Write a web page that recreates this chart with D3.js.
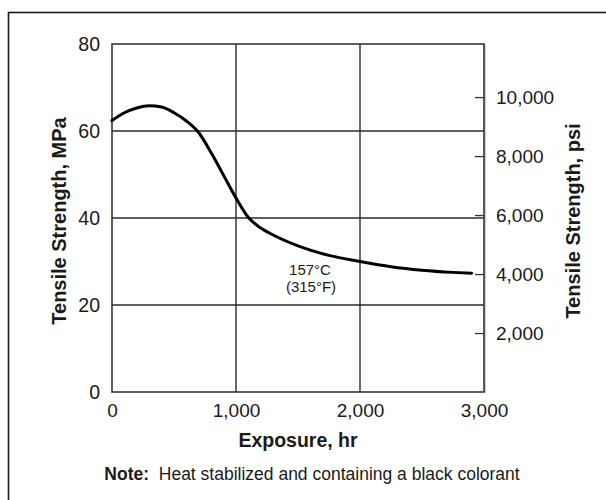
<!DOCTYPE html>
<html>
<head>
<meta charset="utf-8">
<script src="https://cdn.jsdelivr.net/npm/d3@7"></script>
<style>
  html, body { margin: 0; padding: 0; background: #fff; }
  svg { display: block; font-family: "Liberation Sans", Arial, Helvetica, sans-serif; }
</style>
</head>
<body>
<svg id="chart" width="606" height="500"></svg>
<script>
// Exposure time (hr) and tensile strength (MPa) at 157 °C
const exposureHr = [0, 100, 200, 300, 400, 500, 600, 700, 800, 900, 1000, 1100, 1200, 1300, 1500, 1750, 2000, 2250, 2500, 2750, 2900];
const strengthMPa = [62.4, 64.2, 65.3, 65.8, 65.5, 64.2, 62.3, 59.6, 55.0, 49.8, 44.6, 40.1, 37.7, 36.1, 33.6, 31.4, 30.0, 28.8, 28.0, 27.5, 27.3];

// Axis ticks
const xTicks = [0, 1000, 2000, 3000];
const mpaTicks = [0, 20, 40, 60, 80];
const psiTicks = [2000, 4000, 6000, 8000, 10000];
const psiTop = 11800;   // psi value at the top of the frame

const svg = d3.select("#chart");
const m = { left: 112, right: 484, top: 44, bottom: 392 };

const x = d3.scaleLinear().domain([0, 3000]).range([m.left, m.right]);
const y = d3.scaleLinear().domain([0, 80]).range([m.bottom, m.top]);
const yPsi = d3.scaleLinear().domain([0, psiTop]).range([m.bottom, m.top]);

const fmt = d3.format(",");
const ink = "#1a1a1a";

// Outer frame
svg.append("rect")
  .attr("x", 8.5).attr("y", 12.5)
  .attr("width", 640).attr("height", 520)
  .attr("fill", "none").attr("stroke", ink).attr("stroke-width", 1.6);

// Grid lines
const grid = svg.append("g").attr("stroke", "#2a2a2a").attr("stroke-width", 1.4);
grid.selectAll("line.v").data(xTicks.slice(1, -1)).join("line")
  .attr("x1", d => x(d)).attr("x2", d => x(d))
  .attr("y1", m.top).attr("y2", m.bottom);
grid.selectAll("line.h").data(mpaTicks.slice(1, -1)).join("line")
  .attr("y1", d => y(d)).attr("y2", d => y(d))
  .attr("x1", m.left).attr("x2", m.right);

// Plot frame
svg.append("rect")
  .attr("x", m.left).attr("y", m.top)
  .attr("width", m.right - m.left).attr("height", m.bottom - m.top)
  .attr("fill", "none").attr("stroke", "#2a2a2a").attr("stroke-width", 1.5);

// Left axis (MPa)
const yAxis = svg.append("g")
  .attr("transform", `translate(${m.left},0)`)
  .call(d3.axisLeft(y).tickValues(mpaTicks).tickSize(0).tickPadding(12));
yAxis.select(".domain").remove();
yAxis.selectAll("text").attr("font-size", 19.5).attr("fill", ink)
  .attr("font-family", "Liberation Sans, Arial, sans-serif");

// Bottom axis (hours)
const xAxis = svg.append("g")
  .attr("transform", `translate(0,${m.bottom})`)
  .call(d3.axisBottom(x).tickValues(xTicks).tickFormat(fmt).tickSize(0).tickPadding(12));
xAxis.select(".domain").remove();
xAxis.selectAll("text").attr("font-size", 19).attr("fill", ink)
  .attr("font-family", "Liberation Sans, Arial, sans-serif");

// Right axis (psi), ticks pointing inward
const rAxis = svg.append("g")
  .attr("transform", `translate(${m.right},0)`)
  .call(d3.axisRight(yPsi).tickValues(psiTicks).tickFormat(fmt).tickSizeInner(-9).tickSizeOuter(0).tickPadding(12));
rAxis.select(".domain").attr("stroke", "#555").attr("stroke-width", 1.6);
rAxis.selectAll(".tick line").attr("stroke", "#333").attr("stroke-width", 1.3);
rAxis.selectAll("text").attr("font-size", 19).attr("fill", ink)
  .attr("font-family", "Liberation Sans, Arial, sans-serif");

// Strength curve
const pts = exposureHr.map((h, i) => [h, strengthMPa[i]]);
svg.append("path")
  .datum(pts)
  .attr("fill", "none").attr("stroke", "#000").attr("stroke-width", 3)
  .attr("stroke-linecap", "round")
  .attr("d", d3.line().x(d => x(d[0])).y(d => y(d[1])).curve(d3.curveMonotoneX));

// Temperature label on the curve
const tempLabel = svg.append("text")
  .attr("font-size", 15).attr("fill", ink).attr("text-anchor", "middle");
tempLabel.append("tspan").attr("x", 310).attr("y", 275).text("157°C");
tempLabel.append("tspan").attr("x", 311).attr("y", 292).text("(315°F)");

// Axis titles
svg.append("text")
  .attr("x", (m.left + m.right) / 2).attr("y", 447)
  .attr("text-anchor", "middle").attr("font-weight", "bold").attr("font-size", 19.5).attr("fill", ink)
  .text("Exposure, hr");

svg.append("text")
  .attr("transform", `translate(66,${(m.top + m.bottom) / 2 + 3}) rotate(-90)`)
  .attr("text-anchor", "middle").attr("font-weight", "bold").attr("font-size", 20).attr("fill", ink)
  .text("Tensile Strength, MPa");

svg.append("text")
  .attr("transform", `translate(580,${(m.top + m.bottom) / 2 + 3}) rotate(-90)`)
  .attr("text-anchor", "middle").attr("font-weight", "bold").attr("font-size", 20).attr("fill", ink)
  .text("Tensile Strength, psi");

// Footnote
const note = svg.append("text")
  .attr("x", 312).attr("y", 480)
  .attr("text-anchor", "middle").attr("font-size", 17.5).attr("fill", ink);
note.append("tspan").attr("font-weight", "bold").text("Note:");
note.append("tspan").attr("xml:space", "preserve").text("\u00a0 Heat stabilized and containing a black colorant");
</script>
</body>
</html>
